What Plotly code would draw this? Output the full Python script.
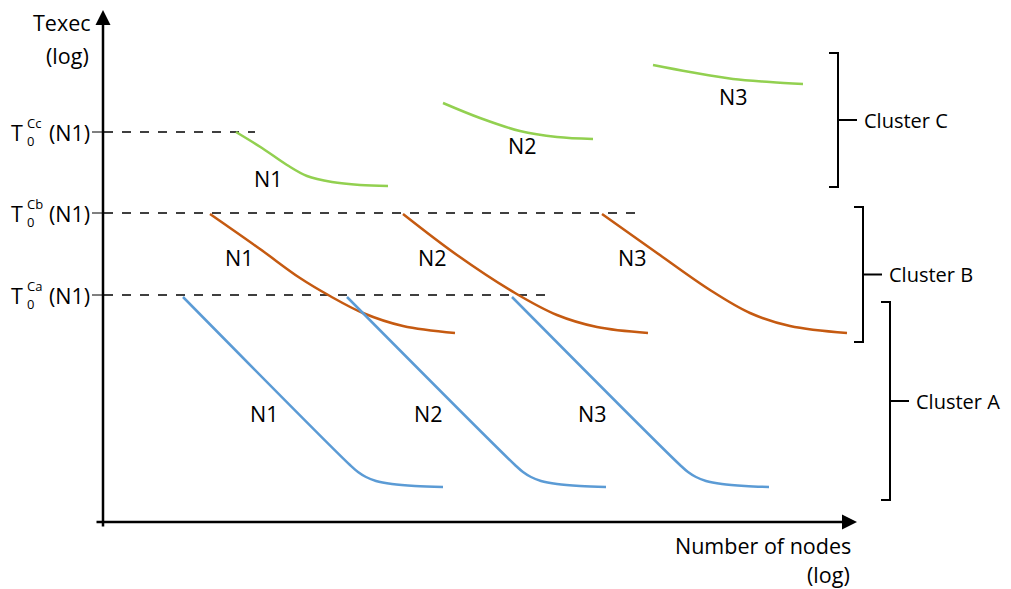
import plotly.graph_objects as go

# ---- data (pixel-space schematic) ----
green_n1_x = [236, 262, 287, 307, 332, 360, 388]
green_n1_y = [132, 148, 165, 176, 182, 185, 186]
green_n2_x = [443, 480, 520, 557, 593]
green_n2_y = [103, 118, 131, 137, 139]
green_n3_x = [653, 690, 733, 770, 803]
green_n3_y = [65, 72, 79, 82, 84]

orange_n1_x = [210, 260, 300, 330, 363, 403, 455]
orange_n1_y = [214, 249, 278, 296, 313, 326, 333]
orange_n2_x = [403, 457, 515, 557, 597, 648]
orange_n2_y = [214, 255, 293, 315, 327, 333]
orange_n3_x = [602, 657, 710, 750, 790, 847]
orange_n3_y = [214, 253, 290, 313, 326, 333]

blue_n1_x = [183, 350, 358, 366, 376, 392, 415, 443]
blue_n1_y = [297, 465, 472, 477, 481, 484, 486, 487]
blue_n2_x = [347, 515, 523, 531, 541, 557, 580, 606]
blue_n2_y = [297, 465, 472, 477, 481, 484, 486, 487]
blue_n3_x = [512, 680, 688, 696, 706, 722, 745, 769]
blue_n3_y = [297, 465, 472, 477, 481, 484, 486, 487]

ref_levels_y = [132, 213, 295]
ref_levels_end = [255, 640, 550]
ref_level_sups = ["Cc", "Cb", "Ca"]

curve_labels = ["N1", "N2", "N3", "N1", "N2", "N3", "N1", "N2", "N3"]
curve_label_x = [268, 522, 733, 239, 432, 632, 264, 428, 592]
curve_label_y = [178, 145, 96, 257, 257, 257, 413, 413, 413]

cluster_names = ["Cluster C", "Cluster B", "Cluster A"]
cluster_x = [838, 863, 890]
cluster_top = [53, 207, 302]
cluster_bot = [187, 342, 500]

GREEN = "#92D050"
ORANGE = "#C55A11"
BLUE = "#5B9BD5"
FONT = "Open Sans"
FS = 21.5
BLACK = "#000000"

fig = go.Figure()

# dashed reference lines
for y, xe in zip(ref_levels_y, ref_levels_end):
    fig.add_trace(go.Scatter(x=[104, xe], y=[y, y], mode="lines",
                             line=dict(color=BLACK, width=1.5, dash="dash"),
                             hoverinfo="skip"))

curves = [
    (green_n1_x, green_n1_y, GREEN), (green_n2_x, green_n2_y, GREEN), (green_n3_x, green_n3_y, GREEN),
    (orange_n1_x, orange_n1_y, ORANGE), (orange_n2_x, orange_n2_y, ORANGE), (orange_n3_x, orange_n3_y, ORANGE),
    (blue_n1_x, blue_n1_y, BLUE), (blue_n2_x, blue_n2_y, BLUE), (blue_n3_x, blue_n3_y, BLUE),
]
for cx, cy, col in curves:
    fig.add_trace(go.Scatter(x=cx, y=cy, mode="lines",
                             line=dict(color=col, width=2.5, shape="spline", smoothing=1.0),
                             hoverinfo="skip"))

def txt(x, y, t, anchor="center", size=FS):
    return dict(x=x, y=y, text=t, showarrow=False, xref="x", yref="y", xanchor=anchor,
                yanchor="middle", font=dict(family=FONT, size=size, color=BLACK))

annotations = []
for t, x, y in zip(curve_labels, curve_label_x, curve_label_y):
    annotations.append(txt(x, y, t))

shapes = []
# axes with arrows
annotations.append(dict(x=103, y=10, ax=103, ay=528, xref="x", yref="y", axref="x", ayref="y",
                        text="", showarrow=True, arrowhead=2, arrowsize=1.2, arrowwidth=2.5,
                        arrowcolor=BLACK))
annotations.append(dict(x=857, y=522, ax=95, ay=522, xref="x", yref="y", axref="x", ayref="y",
                        text="", showarrow=True, arrowhead=2, arrowsize=1.2, arrowwidth=2.5,
                        arrowcolor=BLACK))

# axis titles
annotations.append(txt(93, 22, "Texec", "right"))
annotations.append(txt(91, 55, "(log)", "right"))
annotations.append(txt(853, 545, "Number of nodes", "right"))
annotations.append(txt(852, 574, "(log)", "right"))

# y reference labels T0^C?(N1)
for y, sup in zip(ref_levels_y, ref_level_sups):
    annotations.append(txt(9, y, "T", "left"))
    annotations.append(txt(25, y + 9, "0", "left", 13))
    annotations.append(txt(25, y - 9, sup, "left", 13))
    annotations.append(txt(92, y, "(N1)", "right"))
    shapes.append(dict(type="line", x0=92, x1=103, y0=y, y1=y, xref="x", yref="y",
                       line=dict(color=BLACK, width=1)))

# cluster brackets
for name, bx, top, bot in zip(cluster_names, cluster_x, cluster_top, cluster_bot):
    mid = (top + bot) / 2
    shapes.append(dict(type="path", xref="x", yref="y",
                       path=f"M {bx-9},{top} L {bx},{top} L {bx},{bot} L {bx-9},{bot}",
                       line=dict(color=BLACK, width=2)))
    shapes.append(dict(type="line", x0=bx, x1=bx + 19, y0=mid, y1=mid, xref="x", yref="y",
                       line=dict(color=BLACK, width=2)))
    annotations.append(txt(bx + 24, mid, name, "left", 20))

# the page adds an 8px body margin; the figure is sized so that data units equal window pixels
fig.update_layout(
    width=1003, height=581,
    margin=dict(l=0, r=0, t=0, b=0),
    paper_bgcolor="white", plot_bgcolor="white",
    showlegend=False,
    xaxis=dict(range=[8, 1011], visible=False, fixedrange=True),
    yaxis=dict(range=[589, 8], visible=False, fixedrange=True),
    annotations=annotations, shapes=shapes,
)

fig.write_html("out.html")
